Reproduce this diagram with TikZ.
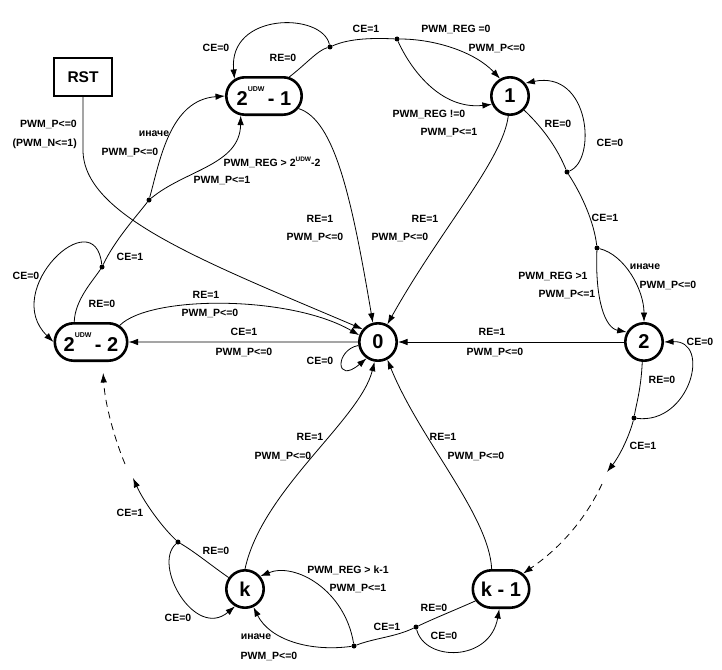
\documentclass[tikz,border=0pt]{standalone}
\usepackage{fontspec}
\setmainfont{Liberation Sans}
\usetikzlibrary{arrows.meta,shapes.misc}
\newcommand{\udw}{\raisebox{14pt}{\fontsize{7}{7}\selectfont UDW}}
\newcommand{\udwpetit}{\raisebox{5pt}{\fontsize{6.5}{6.5}\selectfont UDW}}

\begin{document}
\begin{tikzpicture}[x=1pt,y=-1pt,font=\bfseries]
%styles des états, des points et des transitions
\tikzset{etat/.style={circle,draw,line width=2.6pt,minimum size=37.4pt,inner sep=0pt,font=\fontsize{20}{20}\selectfont\bfseries},
etatlong/.style={rounded rectangle,draw,line width=2.6pt,minimum height=37.4pt,inner sep=0pt,font=\fontsize{20}{20}\selectfont\bfseries},
rst/.style={rectangle,draw,line width=2pt,minimum width=58pt,minimum height=37pt,font=\fontsize{15.5}{16}\selectfont\bfseries},
point/.style={circle,fill,minimum size=5pt,inner sep=0pt},
ligne/.style={line width=0.8pt},
fleche/.style={ligne,-{Latex[length=9.5pt,width=6.5pt]}},
pointille/.style={dash pattern=on 7pt off 5pt},
etiq/.style={inner sep=0pt,font=\fontsize{10.5}{12}\selectfont\bfseries}}
\useasboundingbox (0,0) rectangle (722,669);

%états
\node[rst] (rst) at (83,77) {RST};
\node[etatlong,minimum width=75.4pt] (e2m1) at (264,96) {\makebox[10pt]{2\udw\,- 1}};
\node[etat] (e1) at (510,96) {1};
\node[etatlong,minimum width=72.4pt] (e2m2) at (91,342) {\makebox[10pt]{2\udw\,- 2}};
\node[etat] (e0) at (378,342) {0};
\node[etat] (e2) at (644,342) {2};
\node[etat] (ek) at (245,589) {k};
\node[etatlong,minimum width=56.4pt] (ekm1) at (501,589) {\makebox[10pt]{k - 1}};

%points de branchement
\node[point] (d1) at (330,47) {};
\node[point] (d2) at (397,39) {};
\node[point] (d3) at (567,172) {};
\node[point] (d4) at (597,248) {};
\node[point] (d5) at (634,418) {};
\node[point] (d6) at (416,627) {};
\node[point] (d7) at (354,646) {};
\node[point] (d8) at (178,542) {};
\node[point] (d9) at (102,267) {};
\node[point] (d10) at (149,200) {};
\coordinate (c1) at (607,472);
\coordinate (c2) at (602,484);
\coordinate (c3) at (133,478);
\coordinate (c4) at (125,464);

%RST
\draw[fleche] (rst.south) -- (83,150) .. controls (83,215) and (200,260) .. (e0.140);

%état 2^UDW-1
\draw[ligne] (e2m1.37) .. controls (305,65) and (318,50) .. (d1);
\draw[fleche] (d1) .. controls (322,12) and (228,12) .. (e2m1.150);
\draw[ligne] (d1) .. controls (350,38) and (375,38) .. (d2);
\draw[fleche] (e2m1.-20) .. controls (335,120) and (352,200) .. (e0.105);

%état 1
\draw[fleche] (d2) .. controls (435,39) and (475,52) .. (e1.120);
\draw[fleche] (d2) .. controls (410,68) and (440,110) .. (e1.205);
\draw[ligne] (e1.315) .. controls (545,130) and (558,150) .. (d3);
\draw[fleche] (d3) .. controls (597,160) and (590,70) .. (e1.40);
\draw[ligne] (d3) .. controls (582,195) and (594,222) .. (d4);
\draw[fleche] (e1.265) .. controls (503,160) and (440,230) .. (e0.62);

%état 2
\draw[fleche] (d4) .. controls (625,255) and (644,290) .. (e2.north);
\draw[fleche] (d4) .. controls (595,300) and (605,328) .. (e2.150);
\draw[fleche] (e2) -- (e0);
\draw[ligne] (e2.265) .. controls (641,390) and (636,405) .. (d5);
\draw[fleche] (d5) .. controls (690,425) and (712,340) .. (e2.east);
\draw[fleche] (d5) .. controls (628,440) and (618,458) .. (c1);
\draw[fleche,pointille] (c2) .. controls (585,520) and (560,548) .. (ekm1.35);

%état k-1
\draw[fleche] (ekm1.115) .. controls (489,515) and (420,440) .. (e0.-62);
\draw[ligne] (ekm1.205) .. controls (455,610) and (435,618) .. (d6);
\draw[fleche] (d6) .. controls (425,662) and (490,662) .. (ekm1.265);
\draw[ligne] (d6) .. controls (395,637) and (375,638) .. (d7);

%état k
\draw[fleche] (d7) .. controls (345,590) and (295,562) .. (ek.40);
\draw[fleche] (d7) .. controls (310,652) and (270,640) .. (ek.-65);
\draw[fleche] (ek.north) .. controls (262,490) and (360,420) .. (e0.-100);
\draw[ligne] (ek.145) .. controls (212,566) and (195,552) .. (d8);
\draw[fleche] (d8) .. controls (152,565) and (195,640) .. (ek.240);
\draw[fleche] (d8) .. controls (160,525) and (143,500) .. (c3);
\draw[fleche,pointille,shorten >=11pt] (c4) .. controls (115,440) and (105,405) .. (e2m2.300);

%état 2^UDW-2
\draw[ligne] (e2m2.130) .. controls (75,300) and (92,282) .. (d9);
\draw[fleche] (d9) .. controls (95,200) and (0,290) .. (e2m2.west);
\draw[ligne] (d9) .. controls (115,240) and (135,218) .. (d10);
\draw[fleche] (d10) .. controls (160,160) and (170,100) .. (e2m1.west);
\draw[fleche] (d10) .. controls (185,170) and (240,165) .. (e2m1.220);
\draw[fleche] (e2m2.30) .. controls (150,295) and (290,295) .. (e0.160);

%état 0
\draw[fleche] (e0) -- (e2m2);
\draw[fleche] (e0.190) .. controls (335,350) and (335,385) .. (e0.235);

%étiquettes
\node[etiq,anchor=east] (t1) at (77,124) {PWM\_P<=0};
\node[etiq,anchor=east] (t2) at (77,144) {(PWM\_N<=1)};
\node[etiq] (t3) at (216,48) {CE=0};
\node[etiq] (t4) at (283,58) {RE=0};
\node[etiq] (t5) at (366,29) {CE=1};
\node[etiq] (t6) at (456,29) {PWM\_REG =0};
\node[etiq] (t7) at (497,48) {PWM\_P<=0};
\node[etiq] (t8) at (429,114) {PWM\_REG !=0};
\node[etiq] (t9) at (449,133) {PWM\_P<=1};
\node[etiq] (t10) at (558,124) {RE=0};
\node[etiq] (t11) at (610,143) {CE=0};
\node[etiq] (t12) at (605,218) {CE=1};
\node[etiq] (t13) at (645,267) {иначе};
\node[etiq] (t14) at (668,285) {PWM\_P<=0};
\node[etiq] (t15) at (553,276) {PWM\_REG >1};
\node[etiq] (t16) at (567,295) {PWM\_P<=1};
\node[etiq] (t17) at (425,219) {RE=1};
\node[etiq] (t18) at (400,237) {PWM\_P<=0};
\node[etiq] (t19) at (320,219) {RE=1};
\node[etiq] (t20) at (315,237) {PWM\_P<=0};
\node[etiq] (t21) at (154,134) {иначе};
\node[etiq] (t22) at (130,152) {PWM\_P<=0};
\node[etiq] (t23) at (272,162) {PWM\_REG > 2\udwpetit-2};
\node[etiq] (t24) at (222,181) {PWM\_P<=1};
\node[etiq] (t25) at (492,332) {RE=1};
\node[etiq] (t26) at (495,352) {PWM\_P<=0};
\node[etiq] (t27) at (700,342) {CE=0};
\node[etiq] (t28) at (662,380) {RE=0};
\node[etiq] (t29) at (130,257) {CE=1};
\node[etiq] (t30) at (26,276) {CE=0};
\node[etiq] (t31) at (102,304) {RE=0};
\node[etiq] (t32) at (206,295) {RE=1};
\node[etiq] (t33) at (210,313) {PWM\_P<=0};
\node[etiq] (t34) at (244,332) {CE=1};
\node[etiq] (t35) at (244,352) {PWM\_P<=0};
\node[etiq] (t36) at (320,361) {CE=0};
\node[etiq] (t37) at (310,437) {RE=1};
\node[etiq] (t38) at (283,456) {PWM\_P<=0};
\node[etiq] (t39) at (443,437) {RE=1};
\node[etiq] (t40) at (476,456) {PWM\_P<=0};
\node[etiq] (t41) at (643,446) {CE=1};
\node[etiq] (t42) at (130,513) {CE=1};
\node[etiq] (t43) at (216,551) {RE=0};
\node[etiq] (t44) at (178,618) {CE=0};
\node[etiq] (t45) at (348,570) {PWM\_REG > k-1};
\node[etiq] (t46) at (358,589) {PWM\_P<=1};
\node[etiq] (t47) at (256,637) {иначе};
\node[etiq] (t48) at (269,656) {PWM\_P<=0};
\node[etiq] (t49) at (434,608) {RE=0};
\node[etiq] (t50) at (387,627) {CE=1};
\node[etiq] (t51) at (444,636) {CE=0};
\end{tikzpicture}
\end{document}
